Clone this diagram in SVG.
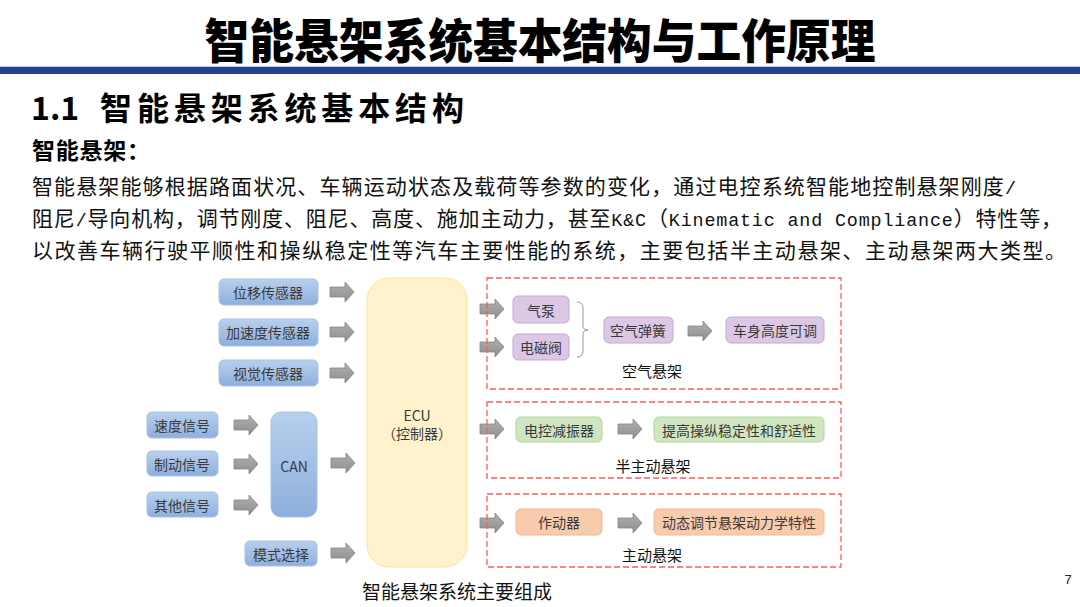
<svg xmlns="http://www.w3.org/2000/svg" width="1080" height="607" viewBox="0 0 1080 607">
<defs>
<linearGradient id="gBlue" x1="0" y1="0" x2="0" y2="1"><stop offset="0" stop-color="#B9D0EE"/><stop offset="1" stop-color="#8DAFDC"/></linearGradient>
<linearGradient id="gGray" x1="0" y1="0" x2="0" y2="1"><stop offset="0" stop-color="#B0B0B0"/><stop offset="1" stop-color="#8E8E8E"/></linearGradient>
<path id="arr" d="M0,-5 H15 V-10 L24,0 L15,10 V5 H0 Z"/>
</defs>
<style>
.cjk{font-family:"Noto Sans CJK SC","Noto Sans",sans-serif}
.mono{font-family:"Liberation Mono","DejaVu Sans Mono",monospace}
.bt{font-family:"Noto Sans CJK SC",sans-serif;font-size:14px;fill:#3A3A3A;text-anchor:middle;dominant-baseline:central}
.lbl{font-family:"Noto Sans CJK SC",sans-serif;font-size:15px;fill:#111;text-anchor:middle;dominant-baseline:central}
.blue{fill:url(#gBlue);stroke:#A8C2E6;stroke-width:1}
.purple{fill:#DCC8E4;stroke:#C3A9D2;stroke-width:1}
.green{fill:#CFE6C0;stroke:#B2D59C;stroke-width:1}
.orange{fill:#F8CBAD;stroke:#F2B793;stroke-width:1}
.dash{fill:none;stroke:#FF5A5A;stroke-width:1.3;stroke-dasharray:6,3}
.ga{fill:url(#gGray);stroke:#858585;stroke-width:0.8}
</style>
<rect width="1080" height="607" fill="#FFFFFF"/>
<text class="cjk" x="540" y="58" font-size="47" font-weight="900" text-anchor="middle" textLength="671" lengthAdjust="spacingAndGlyphs" fill="#000">智能悬架系统基本结构与工作原理</text>
<rect x="0" y="66" width="1080" height="1" fill="#C8CCD8"/>
<rect x="0" y="67" width="1080" height="7" fill="#243F94"/>
<text class="cjk" x="31" y="120" font-size="32" font-weight="bold" fill="#000">1.1</text>
<text class="cjk" x="100" y="120" font-size="32" font-weight="bold" fill="#000" textLength="364" lengthAdjust="spacing">智能悬架系统基本结构</text>
<text class="cjk" x="32" y="159" font-size="23" font-weight="bold" fill="#000" textLength="118" lengthAdjust="spacing">智能悬架：</text>
<text class="cjk" x="32" y="194" font-size="21" fill="#111" textLength="984" lengthAdjust="spacing">智能悬架能够根据路面状况、车辆运动状态及载荷等参数的变化，通过电控系统智能地控制悬架刚度<tspan class="mono" font-size="18.4">/</tspan></text>
<text class="cjk" x="32" y="226" font-size="21" fill="#111" textLength="1030" lengthAdjust="spacing">阻尼<tspan class="mono" font-size="18.4">/</tspan>导向机构，调节刚度、阻尼、高度、施加主动力，甚至<tspan class="mono" font-size="18.4">K&amp;C</tspan>（<tspan class="mono" font-size="18.4">Kinematic and Compliance</tspan>）特性等，</text>
<text class="cjk" x="32" y="258" font-size="21" fill="#111" textLength="1034" lengthAdjust="spacing">以改善车辆行驶平顺性和操纵稳定性等汽车主要性能的系统，主要包括半主动悬架、主动悬架两大类型。</text>

<g id="connectors">
<use href="#arr" class="ga" x="330" y="292"/>
<use href="#arr" class="ga" x="330" y="332"/>
<use href="#arr" class="ga" x="330" y="373"/>
<use href="#arr" class="ga" x="234" y="425"/>
<use href="#arr" class="ga" x="234" y="464"/>
<use href="#arr" class="ga" x="234" y="505"/>
<use href="#arr" class="ga" x="331" y="463"/>
<use href="#arr" class="ga" x="331" y="553"/>
<use href="#arr" class="ga" x="480" y="309"/>
<use href="#arr" class="ga" x="480" y="347"/>
<use href="#arr" class="ga" x="480" y="429"/>
<use href="#arr" class="ga" x="480" y="523"/>
<use href="#arr" class="ga" x="688" y="331"/>
<use href="#arr" class="ga" x="618" y="429"/>
<use href="#arr" class="ga" x="618" y="523"/>
<path d="M577,302 Q583,302 583,308 V326 Q583,330 588,330 Q583,330 583,334 V351 Q583,357 577,357" fill="none" stroke="#8A8A8A" stroke-width="0.9"/>
</g>

<g id="n-weiyi"><rect class="blue" x="219" y="279" width="99" height="26" rx="5"/><text class="bt" x="268" y="292">位移传感器</text></g>
<g id="n-jiasudu"><rect class="blue" x="219" y="319" width="99" height="27" rx="5"/><text class="bt" x="268" y="332">加速度传感器</text></g>
<g id="n-shijue"><rect class="blue" x="219" y="360" width="99" height="26" rx="5"/><text class="bt" x="268" y="373">视觉传感器</text></g>
<g id="n-sudu"><rect class="blue" x="147" y="412" width="71" height="26" rx="5"/><text class="bt" x="182" y="425">速度信号</text></g>
<g id="n-zhidong"><rect class="blue" x="147" y="451" width="71" height="25" rx="5"/><text class="bt" x="182" y="464">制动信号</text></g>
<g id="n-qita"><rect class="blue" x="147" y="492" width="71" height="25" rx="5"/><text class="bt" x="182" y="505">其他信号</text></g>
<g id="n-can"><rect class="blue" x="271" y="412" width="46" height="105" rx="10"/><text class="bt" x="294" y="466" font-size="13">CAN</text></g>
<g id="n-moshi"><rect class="blue" x="245" y="541" width="72" height="25" rx="5"/><text class="bt" x="281" y="554">模式选择</text></g>
<g id="n-ecu"><rect x="367" y="278" width="100" height="289" rx="22" fill="#FFF2CC" stroke="#FFE594" stroke-width="1"/><text class="bt" x="417" y="415" font-size="13">ECU</text><text class="bt" x="417" y="433" font-size="13">（控制器）</text></g>

<g id="g-air"><rect class="dash" x="487" y="278" width="354" height="111"/><text class="lbl" x="652" y="370">空气悬架</text></g>
<g id="n-qibeng"><rect class="purple" x="513" y="296" width="56" height="27" rx="5"/><text class="bt" x="541" y="310">气泵</text></g>
<g id="n-diancifa"><rect class="purple" x="513" y="334" width="56" height="26" rx="5"/><text class="bt" x="541" y="347">电磁阀</text></g>
<g id="n-tanhuang"><rect class="purple" x="604" y="317" width="69" height="26" rx="5"/><text class="bt" x="638" y="330">空气弹簧</text></g>
<g id="n-gaodu"><rect class="purple" x="726" y="317" width="98" height="26" rx="5"/><text class="bt" x="775" y="330">车身高度可调</text></g>

<g id="g-semi"><rect class="dash" x="487" y="402" width="354" height="76"/><text class="lbl" x="653" y="465">半主动悬架</text></g>
<g id="n-jianzhen"><rect class="green" x="516" y="417" width="86" height="25" rx="5"/><text class="bt" x="559" y="430">电控减振器</text></g>
<g id="n-shushi"><rect class="green" x="654" y="417" width="170" height="25" rx="5"/><text class="bt" x="739" y="430">提高操纵稳定性和舒适性</text></g>

<g id="g-active"><rect class="dash" x="487" y="494" width="354" height="73"/><text class="lbl" x="652" y="554">主动悬架</text></g>
<g id="n-zuodong"><rect class="orange" x="516" y="509" width="86" height="26" rx="5"/><text class="bt" x="559" y="522">作动器</text></g>
<g id="n-dongtai"><rect class="orange" x="654" y="509" width="170" height="26" rx="5"/><text class="bt" x="739" y="522">动态调节悬架动力学特性</text></g>

<text class="cjk" x="457" y="599" font-size="19" fill="#111" text-anchor="middle">智能悬架系统主要组成</text>
<text x="1068" y="584" font-family="Liberation Sans,Arial,sans-serif" font-size="13" fill="#222" text-anchor="middle">7</text>
</svg>
